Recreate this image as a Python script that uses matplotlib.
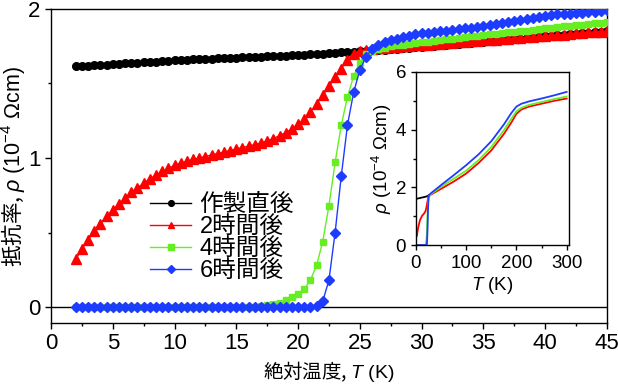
import numpy as np
import matplotlib
matplotlib.use("Agg")
import matplotlib.pyplot as plt
from matplotlib.font_manager import FontProperties
from matplotlib.ticker import MultipleLocator

plt.rcParams['font.family'] = ['Liberation Sans', 'Noto Sans CJK JP', 'DejaVu Sans']
plt.rcParams['mathtext.fontset'] = 'custom'
plt.rcParams['mathtext.rm'] = 'Liberation Sans'
plt.rcParams['mathtext.it'] = 'Liberation Sans:italic'
plt.rcParams['axes.linewidth'] = 1.0

# temperatures, 2 - 45 K every 0.5 K
temp = [2.0, 2.5, 3.0, 3.5, 4.0, 4.5, 5.0, 5.5, 6.0, 6.5, 7.0, 7.5, 8.0, 8.5, 9.0, 9.5, 10.0,
        10.5, 11.0, 11.5, 12.0, 12.5, 13.0, 13.5, 14.0, 14.5, 15.0,
        15.5, 16.0, 16.5, 17.0, 17.5, 18.0, 18.5, 19.0, 19.5, 20.0,
        20.5, 21.0, 21.5, 22.0, 22.5, 23.0, 23.5, 24.0, 24.5, 25.0,
        25.5, 26.0, 26.5, 27.0, 27.5, 28.0, 28.5, 29.0, 29.5, 30.0,
        30.5, 31.0, 31.5, 32.0, 32.5, 33.0, 33.5, 34.0, 34.5, 35.0,
        35.5, 36.0, 36.5, 37.0, 37.5, 38.0, 38.5, 39.0, 39.5, 40.0,
        40.5, 41.0, 41.5, 42.0, 42.5, 43.0, 43.5, 44.0, 44.5, 45.0]

rho_0h = [1.615, 1.617, 1.620, 1.622, 1.625, 1.627, 1.630, 1.632, 1.635, 1.637, 1.640, 1.642, 1.645, 1.647, 1.650, 1.652, 1.655,
          1.657, 1.659, 1.661, 1.662, 1.664, 1.666, 1.668, 1.670, 1.671, 1.673,
          1.675, 1.677, 1.679, 1.680, 1.682, 1.684, 1.686, 1.687, 1.689, 1.690,
          1.693, 1.695, 1.698, 1.700, 1.703, 1.705, 1.708, 1.710, 1.713, 1.715,
          1.718, 1.721, 1.724, 1.727, 1.730, 1.733, 1.736, 1.739, 1.742, 1.745,
          1.748, 1.752, 1.755, 1.759, 1.762, 1.766, 1.769, 1.773, 1.776, 1.780,
          1.783, 1.787, 1.790, 1.794, 1.797, 1.801, 1.804, 1.808, 1.811, 1.815,
          1.818, 1.822, 1.825, 1.829, 1.832, 1.836, 1.839, 1.843, 1.846, 1.850]

rho_2h = [0.32, 0.39, 0.45, 0.51, 0.56, 0.61, 0.65, 0.69, 0.73, 0.77, 0.80, 0.83, 0.86, 0.885, 0.91, 0.93, 0.95,
          0.965, 0.978, 0.99, 1.00, 1.01, 1.02, 1.03, 1.04, 1.05, 1.06,
          1.07, 1.08, 1.09, 1.10, 1.115, 1.13, 1.15, 1.17, 1.195, 1.225,
          1.26, 1.31, 1.36, 1.42, 1.48, 1.54, 1.60, 1.66, 1.70, 1.72,
          1.725, 1.73, 1.735, 1.74, 1.743, 1.746, 1.749, 1.752, 1.755, 1.758,
          1.761, 1.764, 1.767, 1.770, 1.773, 1.776, 1.779, 1.782, 1.785, 1.788,
          1.791, 1.794, 1.797, 1.800, 1.803, 1.806, 1.809, 1.812, 1.815, 1.818,
          1.822, 1.825, 1.828, 1.832, 1.835, 1.838, 1.842, 1.845, 1.848, 1.852]

rho_4h = [0, 0, 0, 0, 0, 0, 0, 0, 0, 0, 0, 0, 0, 0, 0, 0, 0,
          0, 0, 0, 0, 0, 0, 0, 0, 0, 0,
          0, 0, 0.003, 0.006, 0.012, 0.02, 0.03, 0.045, 0.065, 0.09,
          0.12, 0.18, 0.28, 0.44, 0.68, 0.97, 1.22, 1.41, 1.55, 1.64,
          1.70, 1.72, 1.73, 1.74, 1.75, 1.755, 1.76, 1.765, 1.77, 1.775,
          1.78, 1.785, 1.79, 1.795, 1.80, 1.805, 1.81, 1.815, 1.82, 1.825,
          1.83, 1.834, 1.838, 1.842, 1.846, 1.85, 1.855, 1.86, 1.865, 1.87,
          1.874, 1.878, 1.882, 1.886, 1.89, 1.894, 1.898, 1.902, 1.906, 1.91]

rho_6h = [0, 0, 0, 0, 0, 0, 0, 0, 0, 0, 0, 0, 0, 0, 0, 0, 0,
          0, 0, 0, 0, 0, 0, 0, 0, 0, 0,
          0, 0, 0, 0, 0, 0, 0, 0, 0, 0,
          0, 0, 0.005, 0.04, 0.18, 0.50, 0.88, 1.22, 1.44, 1.59,
          1.68, 1.73, 1.76, 1.78, 1.79, 1.80, 1.81, 1.82, 1.83, 1.835,
          1.84, 1.845, 1.85, 1.855, 1.86, 1.865, 1.87, 1.875, 1.88, 1.885,
          1.89, 1.897, 1.904, 1.911, 1.918, 1.925, 1.932, 1.939, 1.946, 1.953,
          1.96, 1.963, 1.966, 1.969, 1.972, 1.975, 1.978, 1.981, 1.985, 1.99]

labels = ['作製直後', '2時間後', '4時間後', '6時間後']

# inset, 0 - 300 K
t_in_0h = [0, 5, 10, 15, 20, 25]
r_in_0h = [1.60, 1.62, 1.64, 1.66, 1.68, 1.72]
t_in_2h = [2, 3, 5, 8, 12, 16, 19, 21, 23, 25, 30, 50, 75, 100, 125, 150, 175, 190, 200, 210, 225, 250, 275, 300]
r_in_2h = [0.32, 0.45, 0.65, 0.86, 1.01, 1.09, 1.17, 1.31, 1.51, 1.72, 1.75, 1.95, 2.2, 2.48, 2.85, 3.28, 3.85, 4.25, 4.55, 4.70, 4.80, 4.90, 5.0, 5.08]
t_in_4h = [2, 19, 20, 21, 22, 23, 24, 25, 30, 50, 75, 100, 125, 150, 175, 190, 200, 210, 225, 250, 275, 300]
r_in_4h = [0, 0, 0.09, 0.18, 0.44, 0.97, 1.41, 1.64, 1.77, 2.02, 2.3, 2.58, 2.95, 3.4, 3.98, 4.38, 4.64, 4.76, 4.86, 4.96, 5.06, 5.15]
t_in_6h = [2, 21, 22, 23, 24, 25, 26, 30, 50, 75, 100, 125, 150, 175, 190, 200, 210, 225, 250, 275, 300]
r_in_6h = [0, 0, 0.04, 0.5, 1.22, 1.59, 1.73, 1.80, 2.08, 2.42, 2.77, 3.15, 3.60, 4.18, 4.58, 4.80, 4.90, 4.98, 5.08, 5.19, 5.31]

cols = ['black', '#ff0000', '#66ee22', '#1e3cff']

fig = plt.figure(figsize=(6.18, 3.86), dpi=100)
ax = fig.add_axes([0.0825, 0.163, 0.8995, 0.814])

ax.axhline(0, color='black', lw=1.0, zorder=1)
ax.plot(temp, rho_0h, '-o', color=cols[0], lw=1, ms=5.5, label=labels[0], zorder=3)
ax.plot(temp, rho_2h, '-^', color=cols[1], lw=1, ms=6.5, label=labels[1], zorder=4)
ax.plot(temp, rho_4h, '-s', color=cols[2], lw=1, ms=5, label=labels[2], zorder=5)
ax.plot(temp, rho_6h, '-D', color=cols[3], lw=1, ms=5, label=labels[3], zorder=6)

ax.set_xlim(0, 45)
ax.set_ylim(-0.107, 2)
ax.set_xticks(np.arange(0, 46, 5))
ax.set_yticks([0, 1, 2])
ax.xaxis.set_minor_locator(MultipleLocator(2.5))
ax.yaxis.set_minor_locator(MultipleLocator(0.5))
ax.tick_params(which='major', direction='out', length=4, width=1, labelsize=16)
ax.tick_params(which='minor', direction='out', length=2.5, width=1)

ax.set_xlabel('絶対温度, $T\\ (\\mathrm{K})$', fontsize=14, family='Noto Sans CJK JP', labelpad=3)
ax.set_ylabel('抵抗率, $\\rho\\ (\\mathrm{10^{-4}\\ \\Omega cm})$', fontsize=15.5, family='Noto Sans CJK JP', labelpad=1)

leg = ax.legend(loc='upper left', bbox_to_anchor=(0.178, 0.41), frameon=False,
                prop=FontProperties(family=['Liberation Sans', 'Noto Sans CJK JP'], size=17),
                borderpad=0, borderaxespad=0, handlelength=1.75, handletextpad=0.35,
                labelspacing=0.0, markerscale=0.75)

# inset
axi = fig.add_axes([0.673, 0.365, 0.248, 0.4485])
axi.plot(t_in_0h, r_in_0h, color=cols[0], lw=1.3)
axi.plot(t_in_2h, r_in_2h, color=cols[1], lw=1.3)
axi.plot(t_in_4h, r_in_4h, color=cols[2], lw=1.3)
axi.plot(t_in_6h, r_in_6h, color=cols[3], lw=1.3)
axi.set_xlim(0, 305)
axi.set_ylim(0, 6)
axi.set_xticks([0, 100, 200, 300])
axi.set_yticks([0, 2, 4, 6])
axi.xaxis.set_minor_locator(MultipleLocator(50))
axi.yaxis.set_minor_locator(MultipleLocator(1))
axi.tick_params(which='major', direction='out', length=3.5, width=1, labelsize=13.5)
axi.tick_params(which='minor', direction='out', length=2, width=1)
axi.set_xlabel('$T\\ (\\mathrm{K})$', fontsize=13.5, labelpad=2)
axi.set_ylabel('$\\rho\\ (\\mathrm{10^{-4}\\ \\Omega cm})$', fontsize=13.5, labelpad=1)

fig.savefig('out.png', dpi=100)
